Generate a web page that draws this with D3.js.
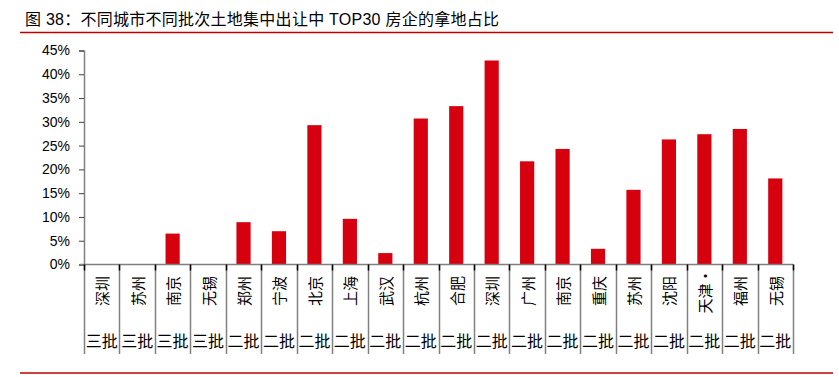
<!DOCTYPE html>
<html>
<head>
<meta charset="utf-8">
<script src="https://cdn.jsdelivr.net/npm/d3@7"></script>
<style>
  body { margin: 0; background: #fff; }
  text { font-family: "Liberation Sans", Arial, "Noto Sans CJK SC", sans-serif; fill: #000; }
  .cjk { font-family: "Noto Sans CJK SC", "Liberation Sans", sans-serif; }
  .title { font-family: "Liberation Sans", Arial, "Noto Sans CJK SC", sans-serif; }
</style>
</head>
<body>
<div class="chart"></div>
<script>
var cities = ['深圳', '苏州', '南京', '无锡', '郑州', '宁波', '北京', '上海', '武汉', '杭州',
              '合肥', '深圳', '广州', '南京', '重庆', '苏州', '沈阳', '天津·', '福州', '无锡'];
var batches = ['三批', '三批', '三批', '三批', '二批', '二批', '二批', '二批', '二批', '二批',
               '二批', '二批', '二批', '二批', '二批', '二批', '二批', '二批', '二批', '二批'];
var share = [0, 0, 6.5, 0, 8.9, 7.0, 29.3, 9.6, 2.4, 30.7,
             33.3, 42.9, 21.7, 24.3, 3.3, 15.7, 26.3, 27.4, 28.5, 18.1];
var yTicks = [0, 5, 10, 15, 20, 25, 30, 35, 40, 45];

var title = '图 38：不同城市不同批次土地集中出让中 TOP30 房企的拿地占比';

var svg = d3.select('.chart').append('svg')
            .attr('width', 839)
            .attr('height', 377);

// title + red rules
svg.append('text').attr('class', 'title')
   .attr('x', 25).attr('y', 25)
   .attr('font-size', 16)
   .attr('textLength', 474)
   .attr('lengthAdjust', 'spacing')
   .text(title);
svg.append('line').attr('x1', 20).attr('x2', 833).attr('y1', 32.5).attr('y2', 32.5)
   .attr('stroke', '#c00000').attr('stroke-width', 1.5);
svg.append('line').attr('x1', 20).attr('x2', 833).attr('y1', 373).attr('y2', 373)
   .attr('stroke', '#c00000').attr('stroke-width', 1.5);

var x0 = 84, x1 = 793, y0 = 264.5, yTop = 50.5;
var idx = d3.range(cities.length);

var x = d3.scaleBand().domain(idx).range([x0, x1]).paddingInner(0.6).paddingOuter(0.3);
var xCell = d3.scaleBand().domain(idx).range([x0, x1]);
var y = d3.scaleLinear().domain([0, 45]).range([y0, yTop]);

// bars
svg.selectAll('rect.bar')
   .data(share)
   .enter().append('rect')
     .attr('class', 'bar')
     .attr('x', function(d, i){ return x(i); })
     .attr('width', x.bandwidth())
     .attr('y', function(d){ return y(d); })
     .attr('height', function(d){ return y0 - y(d); })
     .attr('fill', '#d7000f');

// y axis
var yAxis = d3.axisLeft(y).tickValues(yTicks).tickSize(5)
              .tickFormat(function(d){ return d + '%'; });
var gy = svg.append('g').attr('transform', 'translate(' + x0 + ',0)').call(yAxis);
gy.select('.domain').attr('stroke', '#808080').attr('stroke-width', 1.5);
gy.selectAll('.tick line').attr('stroke', '#404040');
gy.selectAll('.tick text').attr('font-size', 14).attr('x', -14)
  .style('font-family', '"Liberation Sans", Arial, sans-serif');

// x axis line
svg.append('line').attr('x1', x0 - 4).attr('x2', x1).attr('y1', y0).attr('y2', y0)
   .attr('stroke', '#808080').attr('stroke-width', 1.5);

// category separators
var seps = idx.map(function(i){ return xCell(i); }).concat([x1]);
svg.selectAll('line.sep')
   .data(seps)
   .enter().append('line')
     .attr('class', 'sep')
     .attr('x1', function(d){ return Math.round(d) + 0.5; })
     .attr('x2', function(d){ return Math.round(d) + 0.5; })
     .attr('y1', y0).attr('y2', 354)
     .attr('stroke', '#808080').attr('stroke-width', 1.5);
svg.selectAll('line.septick')
   .data(seps)
   .enter().append('line')
     .attr('class', 'septick')
     .attr('x1', function(d){ return Math.round(d) + 0.5; })
     .attr('x2', function(d){ return Math.round(d) + 0.5; })
     .attr('y1', y0).attr('y2', y0 + 6)
     .attr('stroke', '#000').attr('stroke-width', 1.5);

// city labels, rotated
svg.selectAll('text.city')
   .data(cities)
   .enter().append('text')
     .attr('class', 'city cjk')
     .attr('font-size', 15)
     .attr('text-anchor', 'middle')
     .attr('dominant-baseline', 'central')
     .attr('transform', function(d, i){
       return 'translate(' + (xCell(i) + xCell.bandwidth() / 2) + ',291) rotate(-90)';
     })
     .text(function(d){ return d; });

// batch labels
svg.selectAll('text.batch')
   .data(batches)
   .enter().append('text')
     .attr('class', 'batch cjk')
     .attr('font-size', 16)
     .attr('text-anchor', 'middle')
     .attr('x', function(d, i){ return xCell(i) + xCell.bandwidth() / 2; })
     .attr('y', 347)
     .text(function(d){ return d; });
</script>
</body>
</html>
